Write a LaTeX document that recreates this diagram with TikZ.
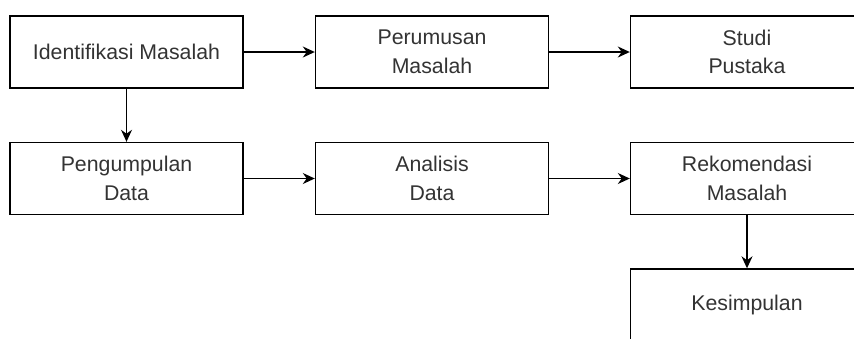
\documentclass[tikz,border=0pt]{standalone}
\usepackage{fontspec}
\setmainfont{Liberation Sans}
\usetikzlibrary{arrows.meta}
\begin{document}
\begin{tikzpicture}[
    x=1pt, y=-1pt,
    line width=1.4pt,
    >={Stealth[length=12pt,width=11pt]},
    stepbox/.style={
        rectangle,
        draw,
        align=center,
        inner sep=0pt,
        minimum width=233pt,
        minimum height=72pt,
        text=black!80,
        font=\fontsize{21.3}{28.5}\selectfont,
    },
]
    \useasboundingbox (0,0) rectangle (854,338);
    \clip (0,0) rectangle (854,338);

    \node[stepbox] (ident) at (126.5,52)  {Identifikasi Masalah};
    \node[stepbox] (rumus) at (432,52)    {Perumusan\\Masalah};
    \node[stepbox] (studi) at (747,52)    {Studi\\Pustaka};
    \node[stepbox] (kumpul) at (126.5,178.5) {Pengumpulan\\Data};
    \node[stepbox] (analisis) at (432,178.5) {Analisis\\Data};
    \node[stepbox] (rekom) at (747,178.5) {Rekomendasi\\Masalah};
    \node[stepbox] (simpul) at (747,305)  {Kesimpulan};

    \draw[->] (ident) -- (rumus);
    \draw[->] (rumus) -- (studi);
    \draw[->] (ident) -- (kumpul);
    \draw[->] (kumpul) -- (analisis);
    \draw[->] (analisis) -- (rekom);
    \draw[->] (rekom) -- (simpul);

\end{tikzpicture}
\end{document}
